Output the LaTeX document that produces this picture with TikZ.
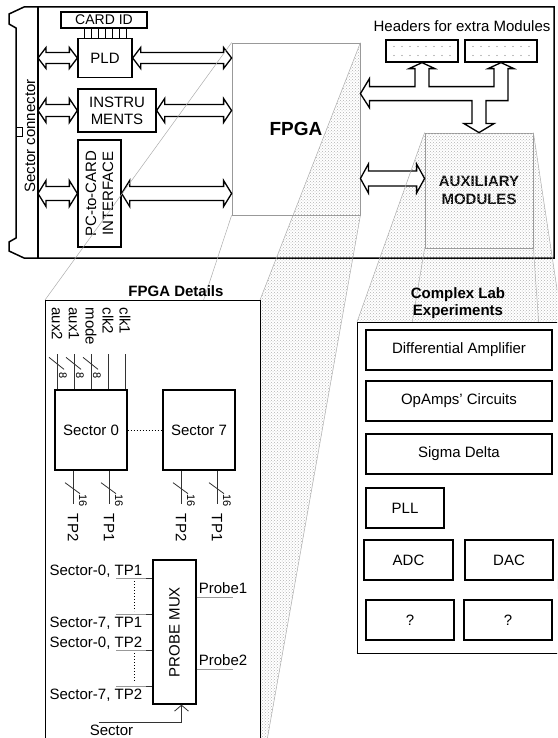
\documentclass[tikz,border=0pt]{standalone}
\usepackage{fontspec}
\setmainfont{Liberation Sans}
\usetikzlibrary{calc,patterns,arrows.meta}

\tikzset{
  blk/.style={draw, line width=1.3pt, fill=white, inner sep=0pt, align=center},
  gbox/.style={draw=gray!80, line width=0.8pt, inner sep=0pt, align=center},
  detbox/.style={draw, line width=0.8pt, fill=white, inner sep=0pt},
  cardline/.style={draw, line width=1.5pt},
  fatbus/.style={draw, line width=1.3pt, fill=white},
  proj/.style={draw=gray!65, line width=0.5pt},
  hatchdots/.style={pattern=crosshatch dots, pattern color=gray!60},
  wire/.style={draw=black!80, line width=0.8pt},
  gwire/.style={draw=gray!80, line width=0.6pt},
  vlab/.style={rotate=-90, anchor=west, inner sep=0pt},
  tinylab/.style={font=\fontsize{11}{12}\selectfont, inner sep=0pt},
  ttl/.style={font=\bfseries\fontsize{15}{17}\selectfont, align=center, inner sep=0pt}
}

% hollow double arrow between two x positions, #3 half shaft, #4 half head
\newcommand{\fatarrow}[4]{%
  \draw[fatbus] let \p1=#1, \p2=#2 in
    (\x1,\y1) -- (\x1+8pt,\y1+#4) -- (\x1+8pt,\y1+#3) -- (\x2-8pt,\y1+#3)
    -- (\x2-8pt,\y1+#4) -- (\x2,\y1) -- (\x2-8pt,\y1-#4) -- (\x2-8pt,\y1-#3)
    -- (\x1+8pt,\y1-#3) -- (\x1+8pt,\y1-#4) -- cycle;}

\begin{document}
\begin{tikzpicture}[x=1pt,y=-1pt,font=\fontsize{15}{17}\selectfont,>={Straight Barb[length=6pt,width=14pt]}]
\useasboundingbox (0,0) rectangle (557,738);
\clip (0,0) rectangle (557,738);

% card and sector connector
\draw[cardline] (24,7) -- (9,14) -- (9,24) -- (16,28) -- (16,238) -- (9,242) -- (9,251)
  -- (24,258) -- (554,258) -- (554,7) -- cycle;
\coordinate (sc) at (38,7);
\draw[cardline] (sc) -- (38,258);
\draw[line width=1pt] (16,128) rectangle (22,137);
\node[rotate=90] (sclab) at (30,136) {Sector connector};

% blocks on the card
\node[blk, minimum width=86pt, minimum height=16pt, font=\fontsize{14}{16}\selectfont] (cardid) at (104,20) {CARD ID};
\node[blk, minimum width=54pt, minimum height=39pt] (pld) at (105,58) {PLD};
\node[blk, minimum width=78pt, minimum height=43pt] (instr) at (117,110.5) {INSTRU\\MENTS};
\node[blk, minimum width=43pt, minimum height=107pt] (pc) at (99.5,193.5) {};
\node[rotate=90, align=center] (pclab) at (pc) {PC-to-CARD\\INTERFACE};
\foreach \i in {-3,...,3}
  \draw[line width=0.8pt] ([xshift=\i*7pt]pld.north) -- ([xshift=\i*7pt]pld.north |- cardid.south);

\node[gbox, minimum width=128pt, minimum height=172pt, font=\bfseries\fontsize{19}{22}\selectfont] (fpga) at (296,129) {FPGA};
\node[gbox, minimum width=108pt, minimum height=115pt, font=\bfseries\fontsize{15}{18}\selectfont] (aux) at (479,190.5) {AUXILIARY\\MODULES};

\node (hdrlab) at (462,26) {Headers for extra Modules};
\node[blk, minimum width=72pt, minimum height=22pt] (hdr1) at (422,51) {};
\node[blk, minimum width=72pt, minimum height=22pt] (hdr2) at (501,51) {};
\foreach \h in {hdr1,hdr2}
  \foreach \dx in {-28,-20,...,28}
    \foreach \dy in {-4.5,4.5}
      \fill[gray] ($(\h.center)+(\dx,\dy)$) circle (0.6pt);

% shaded zoom regions
\coordinate (dtl) at (45,300);
\coordinate (dbr) at (260,780);
\coordinate (ctl) at (357,322);
\coordinate (cbr) at (562,653);
\fill[hatchdots] (fpga.north east) -- (fpga.south east) -- (dbr) -- (dbr |- dtl) -- cycle;
\fill[hatchdots] (aux.north west) -- (aux.north east) -- (cbr |- ctl) -- (ctl) -- cycle;

% buses
\fatarrow{(sc |- pld.west)}{(pld.west)}{5.5pt}{10.5pt}
\fatarrow{(sc |- instr.west)}{(instr.west)}{6pt}{12pt}
\fatarrow{(sc |- pc.west)}{(pc.west)}{7pt}{13pt}
\fatarrow{(pld.east)}{(fpga.west)}{5.5pt}{10.5pt}
\fatarrow{(instr.east)}{(fpga.west)}{6pt}{12pt}
\fatarrow{(pc.east)}{(fpga.west)}{7pt}{13pt}
\coordinate (auxin) at ($(aux.west)+(0,-12)$);
\fatarrow{(fpga.east |- auxin)}{(auxin)}{7.5pt}{14.5pt}

\draw[fatbus] let \p1=(fpga.east), \p2=(hdr1.south), \p3=(hdr2.south), \p4=(aux.north) in
  (\x1,\y2-31pt) -- (\x1+9pt,\y2-16pt) -- (\x1+9pt,\y2-24pt) -- (\x2-7pt,\y2-24pt)
  -- (\x2-7pt,\y2-6pt) -- (\x2-13pt,\y2-6pt) -- (\x2,\y2) -- (\x2+13pt,\y2-6pt)
  -- (\x2+7pt,\y2-6pt) -- (\x2+7pt,\y2-24pt) -- (\x3-7pt,\y2-24pt) -- (\x3-7pt,\y3-6pt)
  -- (\x3-13pt,\y3-6pt) -- (\x3,\y3) -- (\x3+13pt,\y3-6pt) -- (\x3+7pt,\y3-6pt)
  -- (\x3+7pt,\y2-38pt) -- (\x4+7pt,\y2-38pt) -- (\x4+7pt,\y4+9pt) -- (\x4+15pt,\y4+9pt)
  -- (\x4,\y4) -- (\x4-15pt,\y4+9pt) -- (\x4-7pt,\y4+9pt) -- (\x4-7pt,\y2-38pt)
  -- (\x1+9pt,\y2-38pt) -- (\x1+9pt,\y2-45pt) -- cycle;

% projection lines
\draw[proj] (fpga.north west) -- (dtl) (fpga.north east) -- (dbr |- dtl)
  (fpga.south west) -- (dtl |- dbr) (fpga.south east) -- (dbr);
\draw[proj] (aux.north west) -- (ctl) (aux.north east) -- (cbr |- ctl)
  (aux.south west) -- (ctl |- cbr) (aux.south east) -- (cbr);

% FPGA details
\node[detbox, anchor=north west, minimum width=215pt, minimum height=480pt] (det) at (dtl) {};
\node[ttl] (dettitle) at (176,291) {FPGA Details};
\node[blk, minimum width=72pt, minimum height=80pt] (sec0) at (91,430) {Sector 0};
\node[blk, minimum width=72pt, minimum height=80pt] (sec7) at (199,430) {Sector 7};
\draw[dotted, line width=1pt] (sec0) -- (sec7);

\foreach \lab [count=\i] in {aux2,aux1,mode,clk2,clk1} {
  \coordinate (in\i) at ($(sec0.north)+(\i*17-51,0)$);
  \draw[wire] (in\i) -- ++(0,-35);
  \node[vlab] (inlab\i) at ($(in\i)+(0,-82)$) {\lab};
}
\foreach \i in {1,2,3} {
  \draw[wire] ($(in\i)+(-8,-32)$) -- ($(in\i)+(7,-20)$);
  \node[tinylab, rotate=-90] (w\i) at ($(in\i)+(6,-14)$) {8};
}

\foreach \s in {sec0,sec7}
  \foreach \dx/\tp in {-18/TP2,18/TP1} {
    \coordinate (o) at ($(\s.south)+(\dx,0)$);
    \draw[wire] (o) -- ++(0,33);
    \draw[wire] ($(o)+(-8,12)$) -- ($(o)+(7,23)$);
    \node[tinylab, rotate=-90] (\s-w\tp) at ($(o)+(10,30)$) {16};
    \node[vlab] (\s-\tp) at ($(o)+(0,43)$) {\tp};
  }

\node[blk, minimum width=43pt, minimum height=144pt] (mux) at (174.5,632) {};
\node[rotate=90] (muxlab) at (mux) {PROBE MUX};
\foreach \dy/\lab/\by [count=\k] in {-54/{Sector-0, TP1}/-3, -18/{Sector-7, TP1}/13,
    18/{Sector-0, TP2}/-3, 54/{Sector-7, TP2}/13} {
  \draw[gwire] ($(mux.west)+(-36,\dy)$) -- ($(mux.west)+(-6,\dy)$);
  \draw[wire] ($(mux.west)+(-6,\dy)$) -- ($(mux.west)+(0,\dy)$);
  \node[anchor=base east, inner sep=0pt] (mi\k) at ($(mux.west)+(-10,\dy+\by)$) {\lab};
}
\draw[dotted, line width=1pt] ($(mux.west)+(-18,-51)$) -- ($(mux.west)+(-18,-21)$);
\draw[dotted, line width=1pt] ($(mux.west)+(-18,21)$) -- ($(mux.west)+(-18,51)$);
\foreach \dy/\lab in {-35/Probe1, 37/Probe2} {
  \draw[gwire] ($(mux.east)+(0,\dy)$) -- ($(mux.east)+(36,\dy)$);
  \node[anchor=base west, inner sep=0pt] (\lab) at ($(mux.east)+(2,\dy-4)$) {\lab};
}
\coordinate (selin) at ($(mux.south)+(-76,18)$);
\draw[wire, ->] (selin) -| ([xshift=7pt]mux.south);
\node[anchor=base, inner sep=0pt] (sellab) at ($(selin)+(13,13)$) {Sector};

% complex lab experiments
\node[detbox, anchor=north west, minimum width=205pt, minimum height=331pt] (cx) at (ctl) {};
\node[ttl] (cxtitle) at (458,303) {Complex Lab\\Experiments};
\node[blk, minimum width=186pt, minimum height=40pt] (diff) at (459,350) {Differential Amplifier};
\node[blk, minimum width=186pt, minimum height=40pt] (opamp) at (459,401) {OpAmps' Circuits};
\node[blk, minimum width=186pt, minimum height=40pt] (sigma) at (459,454) {Sigma Delta};
\node[blk, minimum width=78pt, minimum height=40pt] (pll) at (405,508) {PLL};
\node[blk, minimum width=89pt, minimum height=40pt] (adc) at (408.5,560) {ADC};
\node[blk, minimum width=88pt, minimum height=40pt] (dac) at (509,560) {DAC};
\node[blk, minimum width=88pt, minimum height=40pt] (q1) at (410,620) {?};
\node[blk, minimum width=88pt, minimum height=40pt] (q2) at (508,620) {?};
\end{tikzpicture}
\end{document}
